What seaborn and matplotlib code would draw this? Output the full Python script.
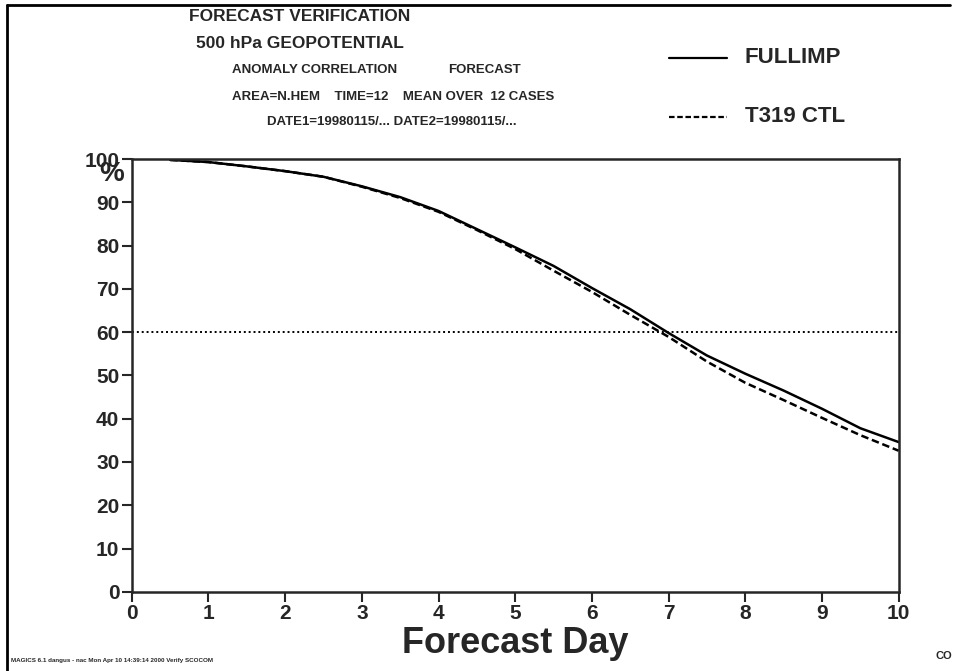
import numpy as np
import pandas as pd
import seaborn as sns
import matplotlib.pyplot as plt
from matplotlib.lines import Line2D

sns.set_style("ticks")
plt.rcParams['font.family'] = ['Liberation Sans', 'DejaVu Sans']
plt.rcParams['font.weight'] = 'bold'

# forecast day and anomaly correlation (%)
days = [0.5, 1.0, 1.5, 2.0, 2.5, 3.0, 3.5, 4.0, 4.5, 5.0,
        5.5, 6.0, 6.5, 7.0, 7.5, 8.0, 8.5, 9.0, 9.5, 10.0]
fullimp = [99.8, 99.3, 98.3, 97.2, 95.9, 93.7, 91.2, 88.0, 83.8, 79.6,
           75.3, 70.2, 65.3, 59.8, 54.6, 50.4, 46.5, 42.3, 37.8, 34.6]
t319_ctl = [99.8, 99.3, 98.3, 97.2, 95.9, 93.6, 91.0, 87.8, 83.6, 79.2,
            74.2, 69.3, 64.0, 58.9, 53.2, 48.3, 44.3, 40.2, 36.2, 32.6]
experiments = ["FULLIMP", "T319 CTL"]
x_ticks = list(range(0, 11))
y_ticks = list(range(0, 101, 10))
reference_level = 60

df = pd.DataFrame({
    "day": days * 2,
    "acc": fullimp + t319_ctl,
    "exp": [experiments[0]] * len(days) + [experiments[1]] * len(days),
})

fig = plt.figure(figsize=(9.55, 6.71), dpi=100)
ax = fig.add_axes([0.138, 0.118, 0.803, 0.645])

sns.lineplot(data=df, x="day", y="acc", style="exp",
             dashes={"FULLIMP": "", "T319 CTL": (3, 1.5)},
             color="black", linewidth=1.8, legend=False, ax=ax)
ax.axhline(reference_level, color="black", linestyle=(0, (1, 1.5)), linewidth=1.4)

ax.set_xlim(0, 10)
ax.set_ylim(0, 100)
ax.set_xticks(x_ticks)
ax.set_yticks(y_ticks)
ax.tick_params(axis="both", direction="out", length=7, width=1.5,
               labelsize=15, pad=2)
for lab in ax.get_xticklabels() + ax.get_yticklabels():
    lab.set_fontweight("bold")
for sp in ax.spines.values():
    sp.set_linewidth(1.8)
    sp.set_visible(True)
ax.set_xlabel("Forecast Day", fontsize=26, fontweight="bold", labelpad=2)
ax.set_ylabel("")
# the % sign sits on top of the "100" label, as in the original
fig.text(0.117, 0.740, "%", fontsize=20, fontweight="bold", ha="center", va="center")

# header block
fig.text(0.314, 0.975, "FORECAST VERIFICATION", fontsize=12.5, ha="center", va="center", fontweight="bold")
fig.text(0.314, 0.935, "500 hPa GEOPOTENTIAL", fontsize=12.5, ha="center", va="center", fontweight="bold")
fig.text(0.243, 0.896, "ANOMALY CORRELATION", fontsize=9.5, ha="left", va="center", fontweight="bold")
fig.text(0.545, 0.896, "FORECAST", fontsize=9.5, ha="right", va="center", fontweight="bold")
fig.text(0.243, 0.856, "AREA=N.HEM    TIME=12    MEAN OVER  12 CASES", fontsize=9.5,
         ha="left", va="center", fontweight="bold")
fig.text(0.41, 0.818, "DATE1=19980115/... DATE2=19980115/...", fontsize=9.5,
         ha="center", va="center", fontweight="bold")

# legend drawn in figure space
fig.add_artist(Line2D([0.700, 0.761], [0.914, 0.914], color="black", linewidth=1.6))
fig.add_artist(Line2D([0.700, 0.761], [0.826, 0.826], color="black", linewidth=1.6,
                      linestyle=(0, (2.5, 1.2))))
fig.text(0.780, 0.914, experiments[0], fontsize=16, ha="left", va="center", fontweight="bold")
fig.text(0.780, 0.826, experiments[1], fontsize=16, ha="left", va="center", fontweight="bold")

# page frame (top and left only) and footer
fig.add_artist(Line2D([0.007, 0.995], [0.993, 0.993], color="black", linewidth=2))
fig.add_artist(Line2D([0.007, 0.007], [0.0, 0.993], color="black", linewidth=2))
fig.text(0.012, 0.016, "MAGICS 6.1 dangus - nac Mon Apr 10 14:39:14 2000 Verify SCOCOM",
         fontsize=4.5, ha="left", va="center", fontweight="bold")
fig.text(0.997, 0.022, "CO", fontsize=8, ha="right", va="center", fontweight="bold")

fig.savefig("out.png", dpi=100)
